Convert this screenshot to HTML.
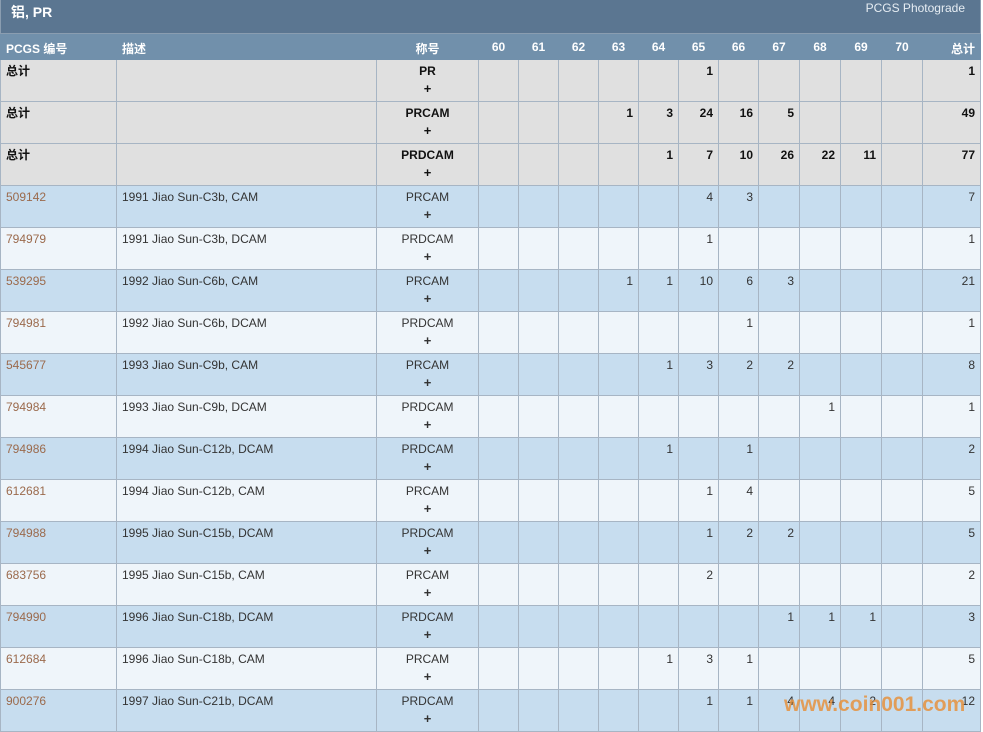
<!DOCTYPE html>
<html><head><meta charset="utf-8"><style>
*{margin:0;padding:0;box-sizing:border-box}
body{width:983px;height:732px;overflow:hidden;background:#fff;font-family:"Liberation Sans","Noto Sans CJK SC",sans-serif;font-size:12px;color:#333;position:relative}
.title{position:absolute;left:0;top:0;width:981px;height:34px;background:#5b7691;border:1px solid #8a9db0;border-top:none}
.title .l{position:absolute;left:10px;top:2px;color:#fff;font-weight:bold;font-size:14px}
.title .r{position:absolute;right:15px;top:1px;color:#e6edf3;font-size:12px}
table{position:absolute;left:0;top:34px;border-collapse:collapse;table-layout:fixed;width:980px}
td,th{border:1px solid #a7b5c4;vertical-align:top;padding:4px 5px 0 5px;white-space:nowrap;overflow:hidden}
th{background:#7190ab;color:#fff;height:25px;font-weight:bold;font-size:12px;padding-top:5px;text-align:center;border-color:#7190ab}
th.lft{text-align:left}
th.rt{text-align:right}
td{height:42px;text-align:right}
td.a,td.b{text-align:left}
td.c{text-align:center;line-height:17px;padding-top:3px}
td.c b{font-weight:bold;font-size:13px}
td{line-height:15px}
tr.g td{background:#e0e0e0;color:#111;font-weight:bold}
tr.x td{background:#c7ddef}
tr.y td{background:#eff5fa}
td.a a{color:#9b6a4c;text-decoration:none}
.wm{position:absolute;left:784px;top:693px;color:#e6933f;font-weight:bold;font-size:21px;opacity:.85;font-family:"Liberation Sans",sans-serif}
</style></head><body>
<div class="title"><span class="l">铝, PR</span><span class="r">PCGS Photograde</span></div>
<table>
<colgroup><col style="width:116px"><col style="width:260px"><col style="width:102px"><col style="width:40px"><col style="width:40px"><col style="width:40px"><col style="width:40px"><col style="width:40px"><col style="width:40px"><col style="width:40px"><col style="width:41px"><col style="width:41px"><col style="width:41px"><col style="width:41px"><col style="width:58px"></colgroup>
<tr><th class="lft">PCGS 编号</th><th class="lft">描述</th><th>称号</th><th>60</th><th>61</th><th>62</th><th>63</th><th>64</th><th>65</th><th>66</th><th>67</th><th>68</th><th>69</th><th>70</th><th class="rt">总计</th></tr>
<tr class="g"><td class="a">总计</td><td class="b"></td><td class="c">PR<br><b>+</b></td><td></td><td></td><td></td><td></td><td></td><td>1</td><td></td><td></td><td></td><td></td><td></td><td>1</td></tr>
<tr class="g"><td class="a">总计</td><td class="b"></td><td class="c">PRCAM<br><b>+</b></td><td></td><td></td><td></td><td>1</td><td>3</td><td>24</td><td>16</td><td>5</td><td></td><td></td><td></td><td>49</td></tr>
<tr class="g"><td class="a">总计</td><td class="b"></td><td class="c">PRDCAM<br><b>+</b></td><td></td><td></td><td></td><td></td><td>1</td><td>7</td><td>10</td><td>26</td><td>22</td><td>11</td><td></td><td>77</td></tr>
<tr class="x"><td class="a"><a>509142</a></td><td class="b">1991 Jiao Sun-C3b, CAM</td><td class="c">PRCAM<br><b>+</b></td><td></td><td></td><td></td><td></td><td></td><td>4</td><td>3</td><td></td><td></td><td></td><td></td><td>7</td></tr>
<tr class="y"><td class="a"><a>794979</a></td><td class="b">1991 Jiao Sun-C3b, DCAM</td><td class="c">PRDCAM<br><b>+</b></td><td></td><td></td><td></td><td></td><td></td><td>1</td><td></td><td></td><td></td><td></td><td></td><td>1</td></tr>
<tr class="x"><td class="a"><a>539295</a></td><td class="b">1992 Jiao Sun-C6b, CAM</td><td class="c">PRCAM<br><b>+</b></td><td></td><td></td><td></td><td>1</td><td>1</td><td>10</td><td>6</td><td>3</td><td></td><td></td><td></td><td>21</td></tr>
<tr class="y"><td class="a"><a>794981</a></td><td class="b">1992 Jiao Sun-C6b, DCAM</td><td class="c">PRDCAM<br><b>+</b></td><td></td><td></td><td></td><td></td><td></td><td></td><td>1</td><td></td><td></td><td></td><td></td><td>1</td></tr>
<tr class="x"><td class="a"><a>545677</a></td><td class="b">1993 Jiao Sun-C9b, CAM</td><td class="c">PRCAM<br><b>+</b></td><td></td><td></td><td></td><td></td><td>1</td><td>3</td><td>2</td><td>2</td><td></td><td></td><td></td><td>8</td></tr>
<tr class="y"><td class="a"><a>794984</a></td><td class="b">1993 Jiao Sun-C9b, DCAM</td><td class="c">PRDCAM<br><b>+</b></td><td></td><td></td><td></td><td></td><td></td><td></td><td></td><td></td><td>1</td><td></td><td></td><td>1</td></tr>
<tr class="x"><td class="a"><a>794986</a></td><td class="b">1994 Jiao Sun-C12b, DCAM</td><td class="c">PRDCAM<br><b>+</b></td><td></td><td></td><td></td><td></td><td>1</td><td></td><td>1</td><td></td><td></td><td></td><td></td><td>2</td></tr>
<tr class="y"><td class="a"><a>612681</a></td><td class="b">1994 Jiao Sun-C12b, CAM</td><td class="c">PRCAM<br><b>+</b></td><td></td><td></td><td></td><td></td><td></td><td>1</td><td>4</td><td></td><td></td><td></td><td></td><td>5</td></tr>
<tr class="x"><td class="a"><a>794988</a></td><td class="b">1995 Jiao Sun-C15b, DCAM</td><td class="c">PRDCAM<br><b>+</b></td><td></td><td></td><td></td><td></td><td></td><td>1</td><td>2</td><td>2</td><td></td><td></td><td></td><td>5</td></tr>
<tr class="y"><td class="a"><a>683756</a></td><td class="b">1995 Jiao Sun-C15b, CAM</td><td class="c">PRCAM<br><b>+</b></td><td></td><td></td><td></td><td></td><td></td><td>2</td><td></td><td></td><td></td><td></td><td></td><td>2</td></tr>
<tr class="x"><td class="a"><a>794990</a></td><td class="b">1996 Jiao Sun-C18b, DCAM</td><td class="c">PRDCAM<br><b>+</b></td><td></td><td></td><td></td><td></td><td></td><td></td><td></td><td>1</td><td>1</td><td>1</td><td></td><td>3</td></tr>
<tr class="y"><td class="a"><a>612684</a></td><td class="b">1996 Jiao Sun-C18b, CAM</td><td class="c">PRCAM<br><b>+</b></td><td></td><td></td><td></td><td></td><td>1</td><td>3</td><td>1</td><td></td><td></td><td></td><td></td><td>5</td></tr>
<tr class="x"><td class="a"><a>900276</a></td><td class="b">1997 Jiao Sun-C21b, DCAM</td><td class="c">PRDCAM<br><b>+</b></td><td></td><td></td><td></td><td></td><td></td><td>1</td><td>1</td><td>4</td><td>4</td><td>2</td><td></td><td>12</td></tr>
</table>
<div class="wm">www.coin001.com</div>
</body></html>
